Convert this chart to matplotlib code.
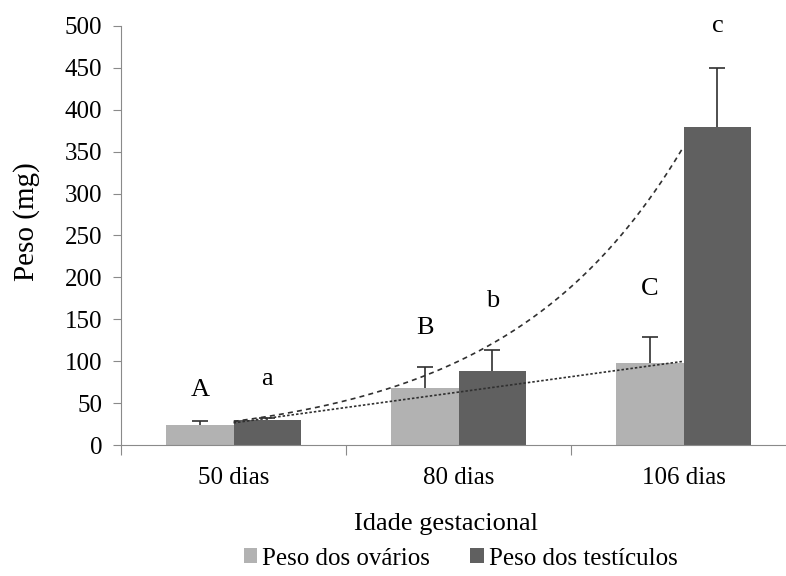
import numpy as np
import matplotlib
matplotlib.use("Agg")
import matplotlib.pyplot as plt

# data
ages = ["50 dias", "80 dias", "106 dias"]
ovaries = [24, 68, 97.5]
ovaries_err = [5, 25, 31]
testes = [30, 88, 380]
testes_err = [2, 25, 70]
ovary_letters = ["A", "B", "C"]
testis_letters = ["a", "b", "c"]

LIGHT = "#b2b2b2"
DARK = "#606060"
AXIS = "#8a8a8a"
ERR = "#303030"

plt.rcParams["font.family"] = ["Liberation Serif", "DejaVu Serif"]
plt.rcParams["font.size"] = 18

fig = plt.figure(figsize=(7.86, 5.76), dpi=100)
ax = fig.add_axes([0.154, 0.2274, 0.859, 0.7275])

x = np.arange(1, len(ages) + 1)
w = 0.3

ax.bar(x - w / 2, ovaries, w, color=LIGHT, label="Peso dos ovários", zorder=2)
ax.bar(x + w / 2, testes, w, color=DARK, label="Peso dos testículos", zorder=2)

# upper error bars only (no cap at the bar top)
for pos, tops, errs in [(x - w / 2, ovaries, ovaries_err), (x + w / 2, testes, testes_err)]:
    tops = np.array(tops)
    errs = np.array(errs)
    ax.vlines(pos, tops, tops + errs, color=ERR, lw=1.2, zorder=3)
    ax.plot(pos, tops + errs, ls="none", marker="_", markersize=12, mew=1.2, color=ERR, zorder=3)

# trend lines: linear for ovaries, exponential for testes
xs = np.linspace(1, 3, 200)
lin = np.polyfit(x, ovaries, 1)
ax.plot(xs, np.polyval(lin, xs), color=ERR, lw=1.2, ls=(0, (1.5, 1.2)), zorder=3)
ex = np.polyfit(x, np.log(testes), 1)
ax.plot(xs, np.exp(np.polyval(ex, xs)), color=ERR, lw=1.2, ls=(0, (3, 2.5)), zorder=3)

# significance letters
for xi, top, e, s in zip(x, ovaries, ovaries_err, ovary_letters):
    ax.text(xi - w / 2, top + e + 30 + 10 * (xi - 1), s, ha="center", va="baseline", fontsize=19)
for xi, top, e, s in zip(x, testes, testes_err, testis_letters):
    ax.text(xi + w / 2, top + e + [40, 52, 43][xi - 1], s, ha="center", va="baseline", fontsize=19)

ax.set_xlim(0.5, 3.5)
ax.set_ylim(0, 500)
ax.set_yticks(np.arange(0, 501, 50))
ax.set_xticks([0.5, 1.5, 2.5, 3.5], minor=False)
ax.set_xticklabels([])
ax.set_xticks(x, minor=True)
ax.set_xticklabels(ages, minor=True)
ax.tick_params(axis="x", which="minor", length=0, pad=16)
ax.tick_params(axis="x", which="major", length=7, color=AXIS)
ax.tick_params(axis="y", length=5.5, color=AXIS, pad=8)

for side in ["top", "right"]:
    ax.spines[side].set_visible(False)
for side in ["left", "bottom"]:
    ax.spines[side].set_color(AXIS)

ax.set_ylabel("Peso (mg)", fontsize=21)
ax.yaxis.set_label_coords(-0.12, 0.532)
ax.set_xlabel("Idade gestacional", fontsize=19)
ax.xaxis.set_label_coords(0.481, -0.162)

fig.legend(loc="center", bbox_to_anchor=(0.586, 0.030), ncol=2, frameon=False,
           handlelength=0.55, handleheight=0.55, handletextpad=0.2, columnspacing=1.6,
           fontsize=18)

fig.savefig("out.png", dpi=100)
